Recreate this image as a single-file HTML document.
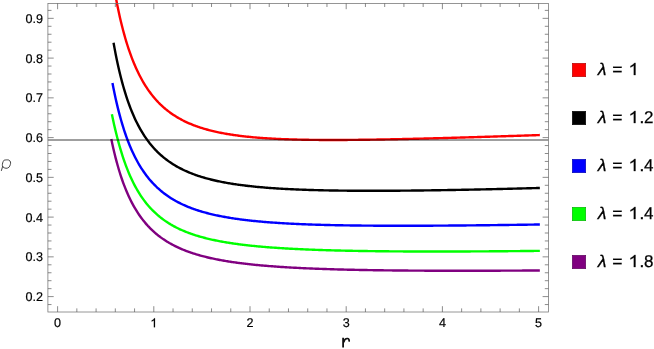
<!DOCTYPE html>
<html><head><meta charset="utf-8"><style>
html,body{margin:0;padding:0;background:#fff;}
body{width:654px;height:349px;position:relative;overflow:hidden;font-family:"Liberation Sans",sans-serif;}
.t{font-family:"Liberation Sans",sans-serif;font-size:12.6px;fill:#000;stroke:#000;stroke-width:0.2px;text-rendering:geometricPrecision;}
.l{font-family:"Liberation Sans",sans-serif;font-size:17px;fill:#000;stroke:#000;stroke-width:0.25px;text-rendering:geometricPrecision;}
.r{font-family:"Liberation Sans",sans-serif;font-size:18px;fill:#111;}
</style></head><body>
<svg width="654" height="349" viewBox="0 0 654 349" style="position:absolute;left:0;top:0">
<defs><clipPath id="cp"><rect x="47.9" y="0" width="500.5" height="312.0"/></clipPath></defs>
<g clip-path="url(#cp)"><path d="M112.43,-22.23 L113.51,-15.62 L114.58,-9.36 L115.65,-3.44 L116.72,2.18 L117.79,7.51 L118.86,12.57 L119.93,17.39 L121.00,21.96 L122.07,26.32 L123.15,30.47 L124.22,34.43 L125.29,38.21 L126.36,41.81 L127.43,45.25 L128.50,48.55 L129.57,51.69 L130.64,54.71 L131.72,57.59 L132.79,60.35 L133.86,63.00 L134.93,65.54 L136.00,67.98 L137.07,70.32 L138.14,72.57 L139.21,74.72 L140.29,76.80 L141.36,78.80 L142.43,80.72 L143.50,82.57 L144.57,84.35 L145.64,86.06 L146.71,87.71 L147.78,89.30 L148.86,90.84 L149.93,92.32 L151.00,93.75 L152.07,95.13 L153.14,96.46 L154.21,97.75 L155.28,98.99 L156.35,100.19 L157.43,101.35 L158.50,102.48 L159.57,103.56 L160.64,104.62 L161.71,105.63 L162.78,106.62 L163.85,107.57 L164.92,108.49 L165.99,109.39 L167.07,110.25 L168.14,111.09 L169.21,111.91 L170.28,112.70 L171.35,113.46 L172.42,114.20 L173.49,114.92 L174.56,115.62 L175.64,116.30 L176.71,116.96 L177.78,117.60 L178.85,118.22 L179.92,118.82 L180.99,119.41 L182.06,119.97 L183.13,120.53 L184.21,121.06 L185.28,121.59 L186.35,122.09 L187.42,122.59 L188.49,123.06 L189.56,123.53 L190.63,123.98 L191.70,124.42 L192.78,124.85 L193.85,125.27 L194.92,125.68 L195.99,126.07 L197.06,126.46 L198.13,126.83 L199.20,127.19 L200.27,127.55 L201.35,127.89 L202.42,128.23 L203.49,128.56 L204.56,128.88 L205.63,129.19 L206.70,129.49 L207.77,129.78 L208.84,130.07 L209.91,130.35 L210.99,130.62 L212.06,130.88 L213.13,131.14 L214.20,131.39 L215.27,131.64 L216.34,131.88 L217.41,132.11 L218.48,132.34 L219.56,132.56 L220.63,132.77 L221.70,132.98 L222.77,133.19 L223.84,133.39 L224.91,133.58 L225.98,133.77 L227.05,133.96 L228.13,134.14 L229.20,134.31 L230.27,134.48 L231.34,134.65 L232.41,134.81 L233.48,134.97 L234.55,135.12 L235.62,135.28 L236.70,135.42 L237.77,135.56 L238.84,135.70 L239.91,135.84 L240.98,135.97 L242.05,136.10 L243.12,136.23 L244.19,136.35 L245.27,136.47 L246.34,136.58 L247.41,136.70 L248.48,136.81 L249.55,136.91 L250.62,137.02 L251.69,137.12 L252.76,137.22 L253.83,137.32 L254.91,137.41 L255.98,137.50 L257.05,137.59 L258.12,137.68 L259.19,137.76 L260.26,137.84 L261.33,137.92 L262.40,138.00 L263.48,138.08 L264.55,138.15 L265.62,138.22 L266.69,138.29 L267.76,138.36 L268.83,138.42 L269.90,138.49 L270.97,138.55 L272.05,138.61 L273.12,138.67 L274.19,138.72 L275.26,138.78 L276.33,138.83 L277.40,138.88 L278.47,138.93 L279.54,138.98 L280.62,139.03 L281.69,139.08 L282.76,139.12 L283.83,139.16 L284.90,139.20 L285.97,139.24 L287.04,139.28 L288.11,139.32 L289.19,139.36 L290.26,139.39 L291.33,139.42 L292.40,139.46 L293.47,139.49 L294.54,139.52 L295.61,139.55 L296.68,139.57 L297.75,139.60 L298.83,139.63 L299.90,139.65 L300.97,139.67 L302.04,139.70 L303.11,139.72 L304.18,139.74 L305.25,139.76 L306.32,139.78 L307.40,139.79 L308.47,139.81 L309.54,139.83 L310.61,139.84 L311.68,139.85 L312.75,139.87 L313.82,139.88 L314.89,139.89 L315.97,139.90 L317.04,139.91 L318.11,139.92 L319.18,139.93 L320.25,139.94 L321.32,139.95 L322.39,139.95 L323.46,139.96 L324.54,139.96 L325.61,139.97 L326.68,139.97 L327.75,139.97 L328.82,139.98 L329.89,139.98 L330.96,139.98 L332.03,139.98 L333.11,139.98 L334.18,139.98 L335.25,139.98 L336.32,139.98 L337.39,139.97 L338.46,139.97 L339.53,139.97 L340.60,139.96 L341.67,139.96 L342.75,139.95 L343.82,139.95 L344.89,139.94 L345.96,139.94 L347.03,139.93 L348.10,139.92 L349.17,139.91 L350.24,139.90 L351.32,139.90 L352.39,139.89 L353.46,139.88 L354.53,139.87 L355.60,139.86 L356.67,139.85 L357.74,139.83 L358.81,139.82 L359.89,139.81 L360.96,139.80 L362.03,139.79 L363.10,139.77 L364.17,139.76 L365.24,139.74 L366.31,139.73 L367.38,139.72 L368.46,139.70 L369.53,139.69 L370.60,139.67 L371.67,139.65 L372.74,139.64 L373.81,139.62 L374.88,139.60 L375.95,139.59 L377.03,139.57 L378.10,139.55 L379.17,139.53 L380.24,139.51 L381.31,139.50 L382.38,139.48 L383.45,139.46 L384.52,139.44 L385.59,139.42 L386.67,139.40 L387.74,139.38 L388.81,139.36 L389.88,139.34 L390.95,139.32 L392.02,139.29 L393.09,139.27 L394.16,139.25 L395.24,139.23 L396.31,139.21 L397.38,139.19 L398.45,139.16 L399.52,139.14 L400.59,139.12 L401.66,139.09 L402.73,139.07 L403.81,139.05 L404.88,139.02 L405.95,139.00 L407.02,138.97 L408.09,138.95 L409.16,138.92 L410.23,138.90 L411.30,138.87 L412.38,138.85 L413.45,138.82 L414.52,138.80 L415.59,138.77 L416.66,138.75 L417.73,138.72 L418.80,138.69 L419.87,138.67 L420.95,138.64 L422.02,138.61 L423.09,138.59 L424.16,138.56 L425.23,138.53 L426.30,138.51 L427.37,138.48 L428.44,138.45 L429.51,138.42 L430.59,138.40 L431.66,138.37 L432.73,138.34 L433.80,138.31 L434.87,138.28 L435.94,138.25 L437.01,138.22 L438.08,138.20 L439.16,138.17 L440.23,138.14 L441.30,138.11 L442.37,138.08 L443.44,138.05 L444.51,138.02 L445.58,137.99 L446.65,137.96 L447.73,137.93 L448.80,137.90 L449.87,137.87 L450.94,137.84 L452.01,137.81 L453.08,137.78 L454.15,137.75 L455.22,137.72 L456.30,137.69 L457.37,137.66 L458.44,137.62 L459.51,137.59 L460.58,137.56 L461.65,137.53 L462.72,137.50 L463.79,137.47 L464.87,137.44 L465.94,137.40 L467.01,137.37 L468.08,137.34 L469.15,137.31 L470.22,137.28 L471.29,137.24 L472.36,137.21 L473.43,137.18 L474.51,137.15 L475.58,137.11 L476.65,137.08 L477.72,137.05 L478.79,137.02 L479.86,136.98 L480.93,136.95 L482.00,136.92 L483.08,136.89 L484.15,136.85 L485.22,136.82 L486.29,136.79 L487.36,136.75 L488.43,136.72 L489.50,136.69 L490.57,136.65 L491.65,136.62 L492.72,136.58 L493.79,136.55 L494.86,136.52 L495.93,136.48 L497.00,136.45 L498.07,136.42 L499.14,136.38 L500.22,136.35 L501.29,136.31 L502.36,136.28 L503.43,136.24 L504.50,136.21 L505.57,136.18 L506.64,136.14 L507.71,136.11 L508.79,136.07 L509.86,136.04 L510.93,136.00 L512.00,135.97 L513.07,135.93 L514.14,135.90 L515.21,135.86 L516.28,135.83 L517.35,135.79 L518.43,135.76 L519.50,135.72 L520.57,135.69 L521.64,135.65 L522.71,135.62 L523.78,135.58 L524.85,135.55 L525.92,135.51 L527.00,135.48 L528.07,135.44 L529.14,135.40 L530.21,135.37 L531.28,135.33 L532.35,135.30 L533.42,135.26 L534.49,135.23 L535.57,135.19 L536.64,135.15 L537.71,135.12 L538.78,135.08 L539.85,135.05" fill="none" stroke="#ff0000" stroke-width="2.4" stroke-linejoin="round"/><path d="M113.55,42.70 L114.62,48.61 L115.68,54.20 L116.75,59.49 L117.82,64.50 L118.89,69.25 L119.96,73.76 L121.03,78.05 L122.09,82.13 L123.16,86.01 L124.23,89.70 L125.30,93.22 L126.37,96.58 L127.44,99.79 L128.51,102.85 L129.57,105.78 L130.64,108.58 L131.71,111.25 L132.78,113.82 L133.85,116.27 L134.92,118.63 L135.98,120.89 L137.05,123.06 L138.12,125.14 L139.19,127.13 L140.26,129.06 L141.33,130.90 L142.40,132.68 L143.46,134.39 L144.53,136.04 L145.60,137.62 L146.67,139.15 L147.74,140.62 L148.81,142.04 L149.87,143.42 L150.94,144.74 L152.01,146.02 L153.08,147.25 L154.15,148.44 L155.22,149.59 L156.28,150.71 L157.35,151.78 L158.42,152.83 L159.49,153.84 L160.56,154.81 L161.63,155.76 L162.70,156.67 L163.76,157.56 L164.83,158.42 L165.90,159.25 L166.97,160.06 L168.04,160.85 L169.11,161.61 L170.17,162.34 L171.24,163.06 L172.31,163.76 L173.38,164.43 L174.45,165.09 L175.52,165.73 L176.58,166.34 L177.65,166.95 L178.72,167.53 L179.79,168.10 L180.86,168.65 L181.93,169.19 L183.00,169.72 L184.06,170.23 L185.13,170.72 L186.20,171.20 L187.27,171.67 L188.34,172.13 L189.41,172.58 L190.47,173.01 L191.54,173.44 L192.61,173.85 L193.68,174.25 L194.75,174.64 L195.82,175.02 L196.88,175.39 L197.95,175.76 L199.02,176.11 L200.09,176.46 L201.16,176.79 L202.23,177.12 L203.30,177.44 L204.36,177.75 L205.43,178.06 L206.50,178.36 L207.57,178.65 L208.64,178.93 L209.71,179.21 L210.77,179.48 L211.84,179.75 L212.91,180.00 L213.98,180.26 L215.05,180.50 L216.12,180.74 L217.19,180.98 L218.25,181.21 L219.32,181.43 L220.39,181.65 L221.46,181.87 L222.53,182.08 L223.60,182.28 L224.66,182.48 L225.73,182.68 L226.80,182.87 L227.87,183.06 L228.94,183.24 L230.01,183.42 L231.07,183.60 L232.14,183.77 L233.21,183.94 L234.28,184.10 L235.35,184.26 L236.42,184.42 L237.49,184.57 L238.55,184.72 L239.62,184.87 L240.69,185.01 L241.76,185.15 L242.83,185.29 L243.90,185.43 L244.96,185.56 L246.03,185.69 L247.10,185.81 L248.17,185.94 L249.24,186.06 L250.31,186.18 L251.37,186.29 L252.44,186.41 L253.51,186.52 L254.58,186.63 L255.65,186.73 L256.72,186.84 L257.79,186.94 L258.85,187.04 L259.92,187.14 L260.99,187.23 L262.06,187.32 L263.13,187.42 L264.20,187.51 L265.26,187.59 L266.33,187.68 L267.40,187.76 L268.47,187.85 L269.54,187.93 L270.61,188.00 L271.67,188.08 L272.74,188.16 L273.81,188.23 L274.88,188.30 L275.95,188.37 L277.02,188.44 L278.09,188.51 L279.15,188.58 L280.22,188.64 L281.29,188.71 L282.36,188.77 L283.43,188.83 L284.50,188.89 L285.56,188.94 L286.63,189.00 L287.70,189.06 L288.77,189.11 L289.84,189.16 L290.91,189.22 L291.98,189.27 L293.04,189.32 L294.11,189.36 L295.18,189.41 L296.25,189.46 L297.32,189.50 L298.39,189.55 L299.45,189.59 L300.52,189.63 L301.59,189.67 L302.66,189.71 L303.73,189.75 L304.80,189.79 L305.86,189.82 L306.93,189.86 L308.00,189.90 L309.07,189.93 L310.14,189.96 L311.21,190.00 L312.28,190.03 L313.34,190.06 L314.41,190.09 L315.48,190.12 L316.55,190.15 L317.62,190.17 L318.69,190.20 L319.75,190.23 L320.82,190.25 L321.89,190.28 L322.96,190.30 L324.03,190.33 L325.10,190.35 L326.16,190.37 L327.23,190.39 L328.30,190.41 L329.37,190.43 L330.44,190.45 L331.51,190.47 L332.58,190.49 L333.64,190.51 L334.71,190.52 L335.78,190.54 L336.85,190.55 L337.92,190.57 L338.99,190.58 L340.05,190.60 L341.12,190.61 L342.19,190.62 L343.26,190.64 L344.33,190.65 L345.40,190.66 L346.46,190.67 L347.53,190.68 L348.60,190.69 L349.67,190.70 L350.74,190.71 L351.81,190.72 L352.88,190.72 L353.94,190.73 L355.01,190.74 L356.08,190.74 L357.15,190.75 L358.22,190.76 L359.29,190.76 L360.35,190.77 L361.42,190.77 L362.49,190.77 L363.56,190.78 L364.63,190.78 L365.70,190.78 L366.77,190.78 L367.83,190.79 L368.90,190.79 L369.97,190.79 L371.04,190.79 L372.11,190.79 L373.18,190.79 L374.24,190.79 L375.31,190.79 L376.38,190.79 L377.45,190.78 L378.52,190.78 L379.59,190.78 L380.65,190.78 L381.72,190.77 L382.79,190.77 L383.86,190.77 L384.93,190.76 L386.00,190.76 L387.07,190.75 L388.13,190.75 L389.20,190.74 L390.27,190.74 L391.34,190.73 L392.41,190.73 L393.48,190.72 L394.54,190.71 L395.61,190.71 L396.68,190.70 L397.75,190.69 L398.82,190.68 L399.89,190.68 L400.95,190.67 L402.02,190.66 L403.09,190.65 L404.16,190.64 L405.23,190.63 L406.30,190.62 L407.37,190.61 L408.43,190.60 L409.50,190.59 L410.57,190.58 L411.64,190.57 L412.71,190.56 L413.78,190.55 L414.84,190.53 L415.91,190.52 L416.98,190.51 L418.05,190.50 L419.12,190.49 L420.19,190.47 L421.25,190.46 L422.32,190.45 L423.39,190.43 L424.46,190.42 L425.53,190.41 L426.60,190.39 L427.67,190.38 L428.73,190.36 L429.80,190.35 L430.87,190.33 L431.94,190.32 L433.01,190.30 L434.08,190.29 L435.14,190.27 L436.21,190.25 L437.28,190.24 L438.35,190.22 L439.42,190.20 L440.49,190.19 L441.56,190.17 L442.62,190.15 L443.69,190.14 L444.76,190.12 L445.83,190.10 L446.90,190.08 L447.97,190.07 L449.03,190.05 L450.10,190.03 L451.17,190.01 L452.24,189.99 L453.31,189.97 L454.38,189.95 L455.44,189.93 L456.51,189.91 L457.58,189.89 L458.65,189.87 L459.72,189.85 L460.79,189.83 L461.86,189.81 L462.92,189.79 L463.99,189.77 L465.06,189.75 L466.13,189.73 L467.20,189.71 L468.27,189.69 L469.33,189.67 L470.40,189.65 L471.47,189.62 L472.54,189.60 L473.61,189.58 L474.68,189.56 L475.74,189.54 L476.81,189.51 L477.88,189.49 L478.95,189.47 L480.02,189.45 L481.09,189.42 L482.16,189.40 L483.22,189.38 L484.29,189.35 L485.36,189.33 L486.43,189.31 L487.50,189.28 L488.57,189.26 L489.63,189.23 L490.70,189.21 L491.77,189.19 L492.84,189.16 L493.91,189.14 L494.98,189.11 L496.05,189.09 L497.11,189.06 L498.18,189.04 L499.25,189.01 L500.32,188.99 L501.39,188.96 L502.46,188.93 L503.52,188.91 L504.59,188.88 L505.66,188.86 L506.73,188.83 L507.80,188.80 L508.87,188.78 L509.93,188.75 L511.00,188.73 L512.07,188.70 L513.14,188.67 L514.21,188.64 L515.28,188.62 L516.35,188.59 L517.41,188.56 L518.48,188.54 L519.55,188.51 L520.62,188.48 L521.69,188.45 L522.76,188.42 L523.82,188.40 L524.89,188.37 L525.96,188.34 L527.03,188.31 L528.10,188.28 L529.17,188.26 L530.23,188.23 L531.30,188.20 L532.37,188.17 L533.44,188.14 L534.51,188.11 L535.58,188.08 L536.65,188.05 L537.71,188.02 L538.78,187.99 L539.85,187.96" fill="none" stroke="#000000" stroke-width="2.4" stroke-linejoin="round"/><path d="M112.46,82.90 L113.53,88.44 L114.61,93.69 L115.68,98.66 L116.75,103.38 L117.82,107.87 L118.89,112.13 L119.96,116.18 L121.03,120.04 L122.10,123.71 L123.17,127.22 L124.25,130.56 L125.32,133.75 L126.39,136.81 L127.46,139.72 L128.53,142.51 L129.60,145.18 L130.67,147.74 L131.74,150.19 L132.82,152.54 L133.89,154.80 L134.96,156.96 L136.03,159.04 L137.10,161.04 L138.17,162.96 L139.24,164.80 L140.31,166.58 L141.38,168.29 L142.46,169.94 L143.53,171.52 L144.60,173.05 L145.67,174.53 L146.74,175.95 L147.81,177.32 L148.88,178.65 L149.95,179.93 L151.02,181.16 L152.10,182.36 L153.17,183.51 L154.24,184.63 L155.31,185.71 L156.38,186.75 L157.45,187.76 L158.52,188.74 L159.59,189.69 L160.67,190.61 L161.74,191.50 L162.81,192.36 L163.88,193.20 L164.95,194.01 L166.02,194.80 L167.09,195.56 L168.16,196.30 L169.23,197.02 L170.31,197.72 L171.38,198.40 L172.45,199.06 L173.52,199.70 L174.59,200.32 L175.66,200.93 L176.73,201.51 L177.80,202.09 L178.87,202.64 L179.95,203.18 L181.02,203.71 L182.09,204.22 L183.16,204.72 L184.23,205.21 L185.30,205.68 L186.37,206.14 L187.44,206.59 L188.51,207.03 L189.59,207.45 L190.66,207.87 L191.73,208.27 L192.80,208.67 L193.87,209.05 L194.94,209.43 L196.01,209.79 L197.08,210.15 L198.16,210.50 L199.23,210.84 L200.30,211.17 L201.37,211.49 L202.44,211.81 L203.51,212.12 L204.58,212.42 L205.65,212.71 L206.72,213.00 L207.80,213.28 L208.87,213.55 L209.94,213.82 L211.01,214.08 L212.08,214.34 L213.15,214.59 L214.22,214.83 L215.29,215.07 L216.36,215.30 L217.44,215.53 L218.51,215.75 L219.58,215.97 L220.65,216.18 L221.72,216.39 L222.79,216.59 L223.86,216.79 L224.93,216.99 L226.00,217.18 L227.08,217.37 L228.15,217.55 L229.22,217.73 L230.29,217.90 L231.36,218.07 L232.43,218.24 L233.50,218.40 L234.57,218.57 L235.65,218.72 L236.72,218.88 L237.79,219.03 L238.86,219.17 L239.93,219.32 L241.00,219.46 L242.07,219.60 L243.14,219.73 L244.21,219.87 L245.29,220.00 L246.36,220.12 L247.43,220.25 L248.50,220.37 L249.57,220.49 L250.64,220.61 L251.71,220.72 L252.78,220.84 L253.85,220.95 L254.93,221.05 L256.00,221.16 L257.07,221.26 L258.14,221.37 L259.21,221.47 L260.28,221.56 L261.35,221.66 L262.42,221.75 L263.49,221.85 L264.57,221.94 L265.64,222.02 L266.71,222.11 L267.78,222.20 L268.85,222.28 L269.92,222.36 L270.99,222.44 L272.06,222.52 L273.14,222.60 L274.21,222.67 L275.28,222.74 L276.35,222.82 L277.42,222.89 L278.49,222.96 L279.56,223.03 L280.63,223.09 L281.70,223.16 L282.78,223.22 L283.85,223.28 L284.92,223.35 L285.99,223.41 L287.06,223.47 L288.13,223.52 L289.20,223.58 L290.27,223.64 L291.34,223.69 L292.42,223.74 L293.49,223.80 L294.56,223.85 L295.63,223.90 L296.70,223.95 L297.77,224.00 L298.84,224.04 L299.91,224.09 L300.99,224.14 L302.06,224.18 L303.13,224.22 L304.20,224.27 L305.27,224.31 L306.34,224.35 L307.41,224.39 L308.48,224.43 L309.55,224.47 L310.63,224.50 L311.70,224.54 L312.77,224.58 L313.84,224.61 L314.91,224.65 L315.98,224.68 L317.05,224.71 L318.12,224.75 L319.19,224.78 L320.27,224.81 L321.34,224.84 L322.41,224.87 L323.48,224.90 L324.55,224.93 L325.62,224.95 L326.69,224.98 L327.76,225.01 L328.83,225.03 L329.91,225.06 L330.98,225.08 L332.05,225.11 L333.12,225.13 L334.19,225.16 L335.26,225.18 L336.33,225.20 L337.40,225.22 L338.48,225.24 L339.55,225.26 L340.62,225.28 L341.69,225.30 L342.76,225.32 L343.83,225.34 L344.90,225.36 L345.97,225.37 L347.04,225.39 L348.12,225.41 L349.19,225.42 L350.26,225.44 L351.33,225.45 L352.40,225.47 L353.47,225.48 L354.54,225.50 L355.61,225.51 L356.68,225.52 L357.76,225.54 L358.83,225.55 L359.90,225.56 L360.97,225.57 L362.04,225.58 L363.11,225.59 L364.18,225.60 L365.25,225.61 L366.32,225.62 L367.40,225.63 L368.47,225.64 L369.54,225.65 L370.61,225.66 L371.68,225.67 L372.75,225.67 L373.82,225.68 L374.89,225.69 L375.97,225.69 L377.04,225.70 L378.11,225.71 L379.18,225.71 L380.25,225.72 L381.32,225.72 L382.39,225.73 L383.46,225.73 L384.53,225.74 L385.61,225.74 L386.68,225.74 L387.75,225.75 L388.82,225.75 L389.89,225.75 L390.96,225.75 L392.03,225.76 L393.10,225.76 L394.17,225.76 L395.25,225.76 L396.32,225.76 L397.39,225.76 L398.46,225.77 L399.53,225.77 L400.60,225.77 L401.67,225.77 L402.74,225.77 L403.82,225.77 L404.89,225.77 L405.96,225.76 L407.03,225.76 L408.10,225.76 L409.17,225.76 L410.24,225.76 L411.31,225.76 L412.38,225.75 L413.46,225.75 L414.53,225.75 L415.60,225.75 L416.67,225.74 L417.74,225.74 L418.81,225.74 L419.88,225.73 L420.95,225.73 L422.02,225.73 L423.10,225.72 L424.17,225.72 L425.24,225.71 L426.31,225.71 L427.38,225.71 L428.45,225.70 L429.52,225.69 L430.59,225.69 L431.66,225.68 L432.74,225.68 L433.81,225.67 L434.88,225.67 L435.95,225.66 L437.02,225.65 L438.09,225.65 L439.16,225.64 L440.23,225.63 L441.31,225.63 L442.38,225.62 L443.45,225.61 L444.52,225.61 L445.59,225.60 L446.66,225.59 L447.73,225.58 L448.80,225.57 L449.87,225.57 L450.95,225.56 L452.02,225.55 L453.09,225.54 L454.16,225.53 L455.23,225.52 L456.30,225.52 L457.37,225.51 L458.44,225.50 L459.51,225.49 L460.59,225.48 L461.66,225.47 L462.73,225.46 L463.80,225.45 L464.87,225.44 L465.94,225.43 L467.01,225.42 L468.08,225.41 L469.15,225.40 L470.23,225.39 L471.30,225.38 L472.37,225.37 L473.44,225.36 L474.51,225.34 L475.58,225.33 L476.65,225.32 L477.72,225.31 L478.80,225.30 L479.87,225.29 L480.94,225.28 L482.01,225.26 L483.08,225.25 L484.15,225.24 L485.22,225.23 L486.29,225.22 L487.36,225.20 L488.44,225.19 L489.51,225.18 L490.58,225.16 L491.65,225.15 L492.72,225.14 L493.79,225.13 L494.86,225.11 L495.93,225.10 L497.00,225.09 L498.08,225.07 L499.15,225.06 L500.22,225.05 L501.29,225.03 L502.36,225.02 L503.43,225.01 L504.50,224.99 L505.57,224.98 L506.65,224.96 L507.72,224.95 L508.79,224.93 L509.86,224.92 L510.93,224.91 L512.00,224.89 L513.07,224.88 L514.14,224.86 L515.21,224.85 L516.29,224.83 L517.36,224.82 L518.43,224.80 L519.50,224.79 L520.57,224.77 L521.64,224.76 L522.71,224.74 L523.78,224.73 L524.85,224.71 L525.93,224.69 L527.00,224.68 L528.07,224.66 L529.14,224.65 L530.21,224.63 L531.28,224.61 L532.35,224.60 L533.42,224.58 L534.49,224.57 L535.57,224.55 L536.64,224.53 L537.71,224.52 L538.78,224.50 L539.85,224.48" fill="none" stroke="#0000ff" stroke-width="2.4" stroke-linejoin="round"/><path d="M111.87,114.20 L112.94,119.32 L114.01,124.21 L115.09,128.88 L116.16,133.33 L117.23,137.58 L118.31,141.63 L119.38,145.50 L120.45,149.19 L121.52,152.72 L122.60,156.09 L123.67,159.32 L124.74,162.40 L125.81,165.34 L126.89,168.16 L127.96,170.86 L129.03,173.44 L130.10,175.92 L131.18,178.29 L132.25,180.57 L133.32,182.75 L134.39,184.84 L135.47,186.85 L136.54,188.78 L137.61,190.63 L138.69,192.41 L139.76,194.13 L140.83,195.78 L141.90,197.36 L142.98,198.89 L144.05,200.36 L145.12,201.78 L146.19,203.14 L147.27,204.46 L148.34,205.73 L149.41,206.95 L150.48,208.14 L151.56,209.28 L152.63,210.38 L153.70,211.45 L154.77,212.48 L155.85,213.48 L156.92,214.44 L157.99,215.37 L159.07,216.27 L160.14,217.15 L161.21,217.99 L162.28,218.81 L163.36,219.60 L164.43,220.37 L165.50,221.12 L166.57,221.84 L167.65,222.54 L168.72,223.22 L169.79,223.88 L170.86,224.53 L171.94,225.15 L173.01,225.75 L174.08,226.34 L175.16,226.91 L176.23,227.47 L177.30,228.01 L178.37,228.53 L179.45,229.04 L180.52,229.54 L181.59,230.02 L182.66,230.49 L183.74,230.95 L184.81,231.39 L185.88,231.83 L186.95,232.25 L188.03,232.66 L189.10,233.06 L190.17,233.45 L191.24,233.83 L192.32,234.21 L193.39,234.57 L194.46,234.92 L195.54,235.27 L196.61,235.60 L197.68,235.93 L198.75,236.25 L199.83,236.56 L200.90,236.87 L201.97,237.17 L203.04,237.46 L204.12,237.74 L205.19,238.02 L206.26,238.29 L207.33,238.56 L208.41,238.82 L209.48,239.07 L210.55,239.32 L211.62,239.56 L212.70,239.80 L213.77,240.03 L214.84,240.25 L215.92,240.48 L216.99,240.69 L218.06,240.90 L219.13,241.11 L220.21,241.32 L221.28,241.51 L222.35,241.71 L223.42,241.90 L224.50,242.09 L225.57,242.27 L226.64,242.45 L227.71,242.62 L228.79,242.79 L229.86,242.96 L230.93,243.13 L232.00,243.29 L233.08,243.45 L234.15,243.60 L235.22,243.75 L236.30,243.90 L237.37,244.05 L238.44,244.19 L239.51,244.33 L240.59,244.47 L241.66,244.60 L242.73,244.74 L243.80,244.87 L244.88,244.99 L245.95,245.12 L247.02,245.24 L248.09,245.36 L249.17,245.48 L250.24,245.60 L251.31,245.71 L252.38,245.82 L253.46,245.93 L254.53,246.04 L255.60,246.14 L256.68,246.25 L257.75,246.35 L258.82,246.45 L259.89,246.54 L260.97,246.64 L262.04,246.73 L263.11,246.83 L264.18,246.92 L265.26,247.01 L266.33,247.09 L267.40,247.18 L268.47,247.27 L269.55,247.35 L270.62,247.43 L271.69,247.51 L272.76,247.59 L273.84,247.67 L274.91,247.74 L275.98,247.82 L277.06,247.89 L278.13,247.96 L279.20,248.03 L280.27,248.10 L281.35,248.17 L282.42,248.24 L283.49,248.30 L284.56,248.37 L285.64,248.43 L286.71,248.49 L287.78,248.56 L288.85,248.62 L289.93,248.68 L291.00,248.73 L292.07,248.79 L293.14,248.85 L294.22,248.90 L295.29,248.96 L296.36,249.01 L297.44,249.06 L298.51,249.12 L299.58,249.17 L300.65,249.22 L301.73,249.27 L302.80,249.31 L303.87,249.36 L304.94,249.41 L306.02,249.45 L307.09,249.50 L308.16,249.54 L309.23,249.59 L310.31,249.63 L311.38,249.67 L312.45,249.71 L313.52,249.75 L314.60,249.79 L315.67,249.83 L316.74,249.87 L317.82,249.91 L318.89,249.95 L319.96,249.98 L321.03,250.02 L322.11,250.05 L323.18,250.09 L324.25,250.12 L325.32,250.16 L326.40,250.19 L327.47,250.22 L328.54,250.25 L329.61,250.28 L330.69,250.31 L331.76,250.34 L332.83,250.37 L333.90,250.40 L334.98,250.43 L336.05,250.46 L337.12,250.49 L338.20,250.51 L339.27,250.54 L340.34,250.56 L341.41,250.59 L342.49,250.62 L343.56,250.64 L344.63,250.66 L345.70,250.69 L346.78,250.71 L347.85,250.73 L348.92,250.76 L349.99,250.78 L351.07,250.80 L352.14,250.82 L353.21,250.84 L354.28,250.86 L355.36,250.88 L356.43,250.90 L357.50,250.92 L358.58,250.94 L359.65,250.96 L360.72,250.97 L361.79,250.99 L362.87,251.01 L363.94,251.02 L365.01,251.04 L366.08,251.06 L367.16,251.07 L368.23,251.09 L369.30,251.10 L370.37,251.12 L371.45,251.13 L372.52,251.15 L373.59,251.16 L374.66,251.17 L375.74,251.19 L376.81,251.20 L377.88,251.21 L378.96,251.22 L380.03,251.24 L381.10,251.25 L382.17,251.26 L383.25,251.27 L384.32,251.28 L385.39,251.29 L386.46,251.30 L387.54,251.31 L388.61,251.32 L389.68,251.33 L390.75,251.34 L391.83,251.35 L392.90,251.36 L393.97,251.36 L395.04,251.37 L396.12,251.38 L397.19,251.39 L398.26,251.40 L399.34,251.40 L400.41,251.41 L401.48,251.42 L402.55,251.42 L403.63,251.43 L404.70,251.43 L405.77,251.44 L406.84,251.44 L407.92,251.45 L408.99,251.45 L410.06,251.46 L411.13,251.46 L412.21,251.47 L413.28,251.47 L414.35,251.48 L415.43,251.48 L416.50,251.48 L417.57,251.49 L418.64,251.49 L419.72,251.49 L420.79,251.50 L421.86,251.50 L422.93,251.50 L424.01,251.50 L425.08,251.50 L426.15,251.51 L427.22,251.51 L428.30,251.51 L429.37,251.51 L430.44,251.51 L431.51,251.51 L432.59,251.51 L433.66,251.51 L434.73,251.51 L435.81,251.51 L436.88,251.51 L437.95,251.51 L439.02,251.51 L440.10,251.51 L441.17,251.51 L442.24,251.51 L443.31,251.51 L444.39,251.51 L445.46,251.50 L446.53,251.50 L447.60,251.50 L448.68,251.50 L449.75,251.50 L450.82,251.50 L451.89,251.49 L452.97,251.49 L454.04,251.49 L455.11,251.48 L456.19,251.48 L457.26,251.48 L458.33,251.48 L459.40,251.47 L460.48,251.47 L461.55,251.46 L462.62,251.46 L463.69,251.46 L464.77,251.45 L465.84,251.45 L466.91,251.44 L467.98,251.44 L469.06,251.43 L470.13,251.43 L471.20,251.42 L472.27,251.42 L473.35,251.41 L474.42,251.41 L475.49,251.40 L476.57,251.40 L477.64,251.39 L478.71,251.39 L479.78,251.38 L480.86,251.37 L481.93,251.37 L483.00,251.36 L484.07,251.35 L485.15,251.35 L486.22,251.34 L487.29,251.33 L488.36,251.33 L489.44,251.32 L490.51,251.31 L491.58,251.31 L492.65,251.30 L493.73,251.29 L494.80,251.28 L495.87,251.27 L496.95,251.27 L498.02,251.26 L499.09,251.25 L500.16,251.24 L501.24,251.23 L502.31,251.23 L503.38,251.22 L504.45,251.21 L505.53,251.20 L506.60,251.19 L507.67,251.18 L508.74,251.17 L509.82,251.16 L510.89,251.15 L511.96,251.14 L513.03,251.13 L514.11,251.13 L515.18,251.12 L516.25,251.11 L517.33,251.10 L518.40,251.09 L519.47,251.08 L520.54,251.07 L521.62,251.05 L522.69,251.04 L523.76,251.03 L524.83,251.02 L525.91,251.01 L526.98,251.00 L528.05,250.99 L529.12,250.98 L530.20,250.97 L531.27,250.96 L532.34,250.95 L533.41,250.93 L534.49,250.92 L535.56,250.91 L536.63,250.90 L537.71,250.89 L538.78,250.88 L539.85,250.86" fill="none" stroke="#00ff00" stroke-width="2.4" stroke-linejoin="round"/><path d="M111.30,139.10 L112.38,144.18 L113.45,148.98 L114.53,153.53 L115.60,157.84 L116.67,161.92 L117.75,165.80 L118.82,169.49 L119.90,172.99 L120.97,176.32 L122.04,179.50 L123.12,182.53 L124.19,185.41 L125.27,188.17 L126.34,190.80 L127.41,193.32 L128.49,195.73 L129.56,198.03 L130.64,200.24 L131.71,202.35 L132.79,204.38 L133.86,206.33 L134.93,208.19 L136.01,209.99 L137.08,211.71 L138.16,213.37 L139.23,214.97 L140.30,216.50 L141.38,217.98 L142.45,219.40 L143.53,220.78 L144.60,222.10 L145.67,223.37 L146.75,224.61 L147.82,225.80 L148.90,226.94 L149.97,228.05 L151.04,229.12 L152.12,230.16 L153.19,231.16 L154.27,232.13 L155.34,233.07 L156.41,233.98 L157.49,234.86 L158.56,235.72 L159.64,236.54 L160.71,237.34 L161.78,238.12 L162.86,238.88 L163.93,239.61 L165.01,240.32 L166.08,241.01 L167.15,241.67 L168.23,242.32 L169.30,242.96 L170.38,243.57 L171.45,244.17 L172.53,244.75 L173.60,245.31 L174.67,245.86 L175.75,246.39 L176.82,246.91 L177.90,247.42 L178.97,247.91 L180.04,248.39 L181.12,248.86 L182.19,249.31 L183.27,249.76 L184.34,250.19 L185.41,250.61 L186.49,251.02 L187.56,251.42 L188.64,251.81 L189.71,252.20 L190.78,252.57 L191.86,252.93 L192.93,253.29 L194.01,253.63 L195.08,253.97 L196.15,254.30 L197.23,254.62 L198.30,254.94 L199.38,255.24 L200.45,255.55 L201.52,255.84 L202.60,256.13 L203.67,256.41 L204.75,256.68 L205.82,256.95 L206.89,257.21 L207.97,257.47 L209.04,257.72 L210.12,257.97 L211.19,258.21 L212.27,258.44 L213.34,258.67 L214.41,258.90 L215.49,259.12 L216.56,259.33 L217.64,259.55 L218.71,259.75 L219.78,259.96 L220.86,260.15 L221.93,260.35 L223.01,260.54 L224.08,260.73 L225.15,260.91 L226.23,261.09 L227.30,261.27 L228.38,261.44 L229.45,261.61 L230.52,261.77 L231.60,261.94 L232.67,262.10 L233.75,262.25 L234.82,262.41 L235.89,262.56 L236.97,262.70 L238.04,262.85 L239.12,262.99 L240.19,263.13 L241.26,263.27 L242.34,263.40 L243.41,263.53 L244.49,263.66 L245.56,263.79 L246.63,263.91 L247.71,264.04 L248.78,264.16 L249.86,264.28 L250.93,264.39 L252.00,264.50 L253.08,264.62 L254.15,264.73 L255.23,264.83 L256.30,264.94 L257.38,265.04 L258.45,265.15 L259.52,265.25 L260.60,265.35 L261.67,265.44 L262.75,265.54 L263.82,265.63 L264.89,265.72 L265.97,265.81 L267.04,265.90 L268.12,265.99 L269.19,266.08 L270.26,266.16 L271.34,266.24 L272.41,266.32 L273.49,266.40 L274.56,266.48 L275.63,266.56 L276.71,266.64 L277.78,266.71 L278.86,266.79 L279.93,266.86 L281.00,266.93 L282.08,267.00 L283.15,267.07 L284.23,267.14 L285.30,267.20 L286.37,267.27 L287.45,267.33 L288.52,267.40 L289.60,267.46 L290.67,267.52 L291.74,267.58 L292.82,267.64 L293.89,267.70 L294.97,267.75 L296.04,267.81 L297.12,267.87 L298.19,267.92 L299.26,267.98 L300.34,268.03 L301.41,268.08 L302.49,268.13 L303.56,268.18 L304.63,268.23 L305.71,268.28 L306.78,268.33 L307.86,268.38 L308.93,268.42 L310.00,268.47 L311.08,268.51 L312.15,268.56 L313.23,268.60 L314.30,268.64 L315.37,268.68 L316.45,268.73 L317.52,268.77 L318.60,268.81 L319.67,268.85 L320.74,268.89 L321.82,268.92 L322.89,268.96 L323.97,269.00 L325.04,269.03 L326.11,269.07 L327.19,269.11 L328.26,269.14 L329.34,269.17 L330.41,269.21 L331.48,269.24 L332.56,269.27 L333.63,269.31 L334.71,269.34 L335.78,269.37 L336.85,269.40 L337.93,269.43 L339.00,269.46 L340.08,269.49 L341.15,269.52 L342.23,269.54 L343.30,269.57 L344.37,269.60 L345.45,269.62 L346.52,269.65 L347.60,269.68 L348.67,269.70 L349.74,269.73 L350.82,269.75 L351.89,269.78 L352.97,269.80 L354.04,269.82 L355.11,269.84 L356.19,269.87 L357.26,269.89 L358.34,269.91 L359.41,269.93 L360.48,269.95 L361.56,269.97 L362.63,269.99 L363.71,270.01 L364.78,270.03 L365.85,270.05 L366.93,270.07 L368.00,270.09 L369.08,270.11 L370.15,270.13 L371.22,270.14 L372.30,270.16 L373.37,270.18 L374.45,270.19 L375.52,270.21 L376.59,270.23 L377.67,270.24 L378.74,270.26 L379.82,270.27 L380.89,270.29 L381.97,270.30 L383.04,270.32 L384.11,270.33 L385.19,270.34 L386.26,270.36 L387.34,270.37 L388.41,270.38 L389.48,270.39 L390.56,270.41 L391.63,270.42 L392.71,270.43 L393.78,270.44 L394.85,270.45 L395.93,270.46 L397.00,270.47 L398.08,270.49 L399.15,270.50 L400.22,270.51 L401.30,270.52 L402.37,270.52 L403.45,270.53 L404.52,270.54 L405.59,270.55 L406.67,270.56 L407.74,270.57 L408.82,270.58 L409.89,270.59 L410.96,270.59 L412.04,270.60 L413.11,270.61 L414.19,270.62 L415.26,270.62 L416.33,270.63 L417.41,270.64 L418.48,270.64 L419.56,270.65 L420.63,270.65 L421.70,270.66 L422.78,270.67 L423.85,270.67 L424.93,270.68 L426.00,270.68 L427.08,270.69 L428.15,270.69 L429.22,270.70 L430.30,270.70 L431.37,270.71 L432.45,270.71 L433.52,270.71 L434.59,270.72 L435.67,270.72 L436.74,270.72 L437.82,270.73 L438.89,270.73 L439.96,270.73 L441.04,270.74 L442.11,270.74 L443.19,270.74 L444.26,270.74 L445.33,270.74 L446.41,270.75 L447.48,270.75 L448.56,270.75 L449.63,270.75 L450.70,270.75 L451.78,270.75 L452.85,270.76 L453.93,270.76 L455.00,270.76 L456.07,270.76 L457.15,270.76 L458.22,270.76 L459.30,270.76 L460.37,270.76 L461.44,270.76 L462.52,270.76 L463.59,270.76 L464.67,270.76 L465.74,270.76 L466.82,270.76 L467.89,270.76 L468.96,270.76 L470.04,270.75 L471.11,270.75 L472.19,270.75 L473.26,270.75 L474.33,270.75 L475.41,270.75 L476.48,270.75 L477.56,270.74 L478.63,270.74 L479.70,270.74 L480.78,270.74 L481.85,270.74 L482.93,270.73 L484.00,270.73 L485.07,270.73 L486.15,270.72 L487.22,270.72 L488.30,270.72 L489.37,270.72 L490.44,270.71 L491.52,270.71 L492.59,270.71 L493.67,270.70 L494.74,270.70 L495.81,270.69 L496.89,270.69 L497.96,270.69 L499.04,270.68 L500.11,270.68 L501.18,270.67 L502.26,270.67 L503.33,270.67 L504.41,270.66 L505.48,270.66 L506.56,270.65 L507.63,270.65 L508.70,270.64 L509.78,270.64 L510.85,270.63 L511.93,270.63 L513.00,270.62 L514.07,270.62 L515.15,270.61 L516.22,270.60 L517.30,270.60 L518.37,270.59 L519.44,270.59 L520.52,270.58 L521.59,270.58 L522.67,270.57 L523.74,270.56 L524.81,270.56 L525.89,270.55 L526.96,270.54 L528.04,270.54 L529.11,270.53 L530.18,270.52 L531.26,270.52 L532.33,270.51 L533.41,270.50 L534.48,270.50 L535.55,270.49 L536.63,270.48 L537.70,270.47 L538.78,270.47 L539.85,270.46" fill="none" stroke="#800080" stroke-width="2.4" stroke-linejoin="round"/></g>
<line x1="47.9" y1="140.0" x2="548.4" y2="140.0" stroke="#000" stroke-opacity="0.5" stroke-width="1.5"/>
<rect x="47.9" y="3.4" width="500.5" height="308.6" fill="none" stroke="#737373" stroke-width="0.75"/>
<path d="M57.60,312.0 v-5.8 M57.60,3.4 v5.8 M76.84,312.0 v-3.6 M76.84,3.4 v3.6 M96.08,312.0 v-3.6 M96.08,3.4 v3.6 M115.32,312.0 v-3.6 M115.32,3.4 v3.6 M134.56,312.0 v-3.6 M134.56,3.4 v3.6 M153.80,312.0 v-5.8 M153.80,3.4 v5.8 M173.04,312.0 v-3.6 M173.04,3.4 v3.6 M192.28,312.0 v-3.6 M192.28,3.4 v3.6 M211.52,312.0 v-3.6 M211.52,3.4 v3.6 M230.76,312.0 v-3.6 M230.76,3.4 v3.6 M250.00,312.0 v-5.8 M250.00,3.4 v5.8 M269.24,312.0 v-3.6 M269.24,3.4 v3.6 M288.48,312.0 v-3.6 M288.48,3.4 v3.6 M307.72,312.0 v-3.6 M307.72,3.4 v3.6 M326.96,312.0 v-3.6 M326.96,3.4 v3.6 M346.20,312.0 v-5.8 M346.20,3.4 v5.8 M365.44,312.0 v-3.6 M365.44,3.4 v3.6 M384.68,312.0 v-3.6 M384.68,3.4 v3.6 M403.92,312.0 v-3.6 M403.92,3.4 v3.6 M423.16,312.0 v-3.6 M423.16,3.4 v3.6 M442.40,312.0 v-5.8 M442.40,3.4 v5.8 M461.64,312.0 v-3.6 M461.64,3.4 v3.6 M480.88,312.0 v-3.6 M480.88,3.4 v3.6 M500.12,312.0 v-3.6 M500.12,3.4 v3.6 M519.36,312.0 v-3.6 M519.36,3.4 v3.6 M538.60,312.0 v-5.8 M538.60,3.4 v5.8 M47.9,304.55 h3.6 M548.4,304.55 h-3.6 M47.9,296.60 h5.8 M548.4,296.60 h-5.8 M47.9,288.65 h3.6 M548.4,288.65 h-3.6 M47.9,280.70 h3.6 M548.4,280.70 h-3.6 M47.9,272.75 h3.6 M548.4,272.75 h-3.6 M47.9,264.80 h3.6 M548.4,264.80 h-3.6 M47.9,256.85 h5.8 M548.4,256.85 h-5.8 M47.9,248.90 h3.6 M548.4,248.90 h-3.6 M47.9,240.95 h3.6 M548.4,240.95 h-3.6 M47.9,233.00 h3.6 M548.4,233.00 h-3.6 M47.9,225.05 h3.6 M548.4,225.05 h-3.6 M47.9,217.10 h5.8 M548.4,217.10 h-5.8 M47.9,209.15 h3.6 M548.4,209.15 h-3.6 M47.9,201.20 h3.6 M548.4,201.20 h-3.6 M47.9,193.25 h3.6 M548.4,193.25 h-3.6 M47.9,185.30 h3.6 M548.4,185.30 h-3.6 M47.9,177.35 h5.8 M548.4,177.35 h-5.8 M47.9,169.40 h3.6 M548.4,169.40 h-3.6 M47.9,161.45 h3.6 M548.4,161.45 h-3.6 M47.9,153.50 h3.6 M548.4,153.50 h-3.6 M47.9,145.55 h3.6 M548.4,145.55 h-3.6 M47.9,137.60 h5.8 M548.4,137.60 h-5.8 M47.9,129.65 h3.6 M548.4,129.65 h-3.6 M47.9,121.70 h3.6 M548.4,121.70 h-3.6 M47.9,113.75 h3.6 M548.4,113.75 h-3.6 M47.9,105.80 h3.6 M548.4,105.80 h-3.6 M47.9,97.85 h5.8 M548.4,97.85 h-5.8 M47.9,89.90 h3.6 M548.4,89.90 h-3.6 M47.9,81.95 h3.6 M548.4,81.95 h-3.6 M47.9,74.00 h3.6 M548.4,74.00 h-3.6 M47.9,66.05 h3.6 M548.4,66.05 h-3.6 M47.9,58.10 h5.8 M548.4,58.10 h-5.8 M47.9,50.15 h3.6 M548.4,50.15 h-3.6 M47.9,42.20 h3.6 M548.4,42.20 h-3.6 M47.9,34.25 h3.6 M548.4,34.25 h-3.6 M47.9,26.30 h3.6 M548.4,26.30 h-3.6 M47.9,18.35 h5.8 M548.4,18.35 h-5.8 M47.9,10.40 h3.6 M548.4,10.40 h-3.6" stroke="#5a5a5a" stroke-width="0.7" fill="none"/>
<g style="filter:grayscale(1)">
<text x="57.6" y="327.3" text-anchor="middle" class="t">0</text>
<path transform="translate(150.30,327.30) scale(0.006152,-0.006152)" d="M763 0H583V1147Q518 1085 412.5 1023Q307 961 223 930V1104Q374 1175 487 1276Q600 1377 647 1472H763Z" fill="#000" stroke="#000" stroke-width="32.5"/>
<text x="250.0" y="327.3" text-anchor="middle" class="t">2</text>
<text x="346.2" y="327.3" text-anchor="middle" class="t">3</text>
<text x="442.4" y="327.3" text-anchor="middle" class="t">4</text>
<text x="538.6" y="327.3" text-anchor="middle" class="t">5</text>
<text x="43" y="301.1" text-anchor="end" class="t">0.2</text>
<text x="43" y="261.4" text-anchor="end" class="t">0.3</text>
<text x="43" y="221.6" text-anchor="end" class="t">0.4</text>
<text x="43" y="181.9" text-anchor="end" class="t">0.5</text>
<text x="43" y="142.1" text-anchor="end" class="t">0.6</text>
<text x="43" y="102.4" text-anchor="end" class="t">0.7</text>
<text x="43" y="62.6" text-anchor="end" class="t">0.8</text>
<text x="43" y="22.9" text-anchor="end" class="t">0.9</text>
<g fill="none" stroke="#222" stroke-width="0.85"><path d="M4.30,160.20 C5.21,159.92 7.57,159.70 8.60,160.00 C9.63,160.30 10.22,161.23 10.50,162.00 C10.78,162.77 10.57,163.72 10.30,164.60 C10.03,165.48 9.62,166.68 8.90,167.30 C8.18,167.92 7.00,168.37 6.00,168.30 C5.00,168.23 3.50,167.57 2.90,166.90 C2.30,166.23 2.36,165.17 2.40,164.30 C2.44,163.43 2.83,162.38 3.15,161.70 C3.47,161.02 3.39,160.48 4.30,160.20Z"/><path d="M2.7,166.2 L1.3,170.9"/></g>
<g fill="none" stroke="#111" stroke-linecap="butt"><path d="M343.1,337.7 V347.6" stroke-width="1.8"/><path d="M343.9,341.8 C344.3,339.8 346.0,338.4 347.5,338.5 C348.8,338.7 349.2,339.8 349.2,341.0" stroke-width="1.7" stroke-linecap="round"/></g>
<text transform="translate(597.7,75.1) scale(1.05,1)" class="l" font-style="italic">λ</text>
<text transform="translate(612.3,75.1) scale(1.03,1)" class="l">=</text>
<path transform="translate(628.40,75.10) scale(0.009297,-0.008301)" d="M763 0H583V1147Q518 1085 412.5 1023Q307 961 223 930V1104Q374 1175 487 1276Q600 1377 647 1472H763Z" fill="#000" stroke="#000" stroke-width="30.1"/>
<text transform="translate(597.7,123.1) scale(1.05,1)" class="l" font-style="italic">λ</text>
<text transform="translate(612.3,123.1) scale(1.03,1)" class="l">=</text>
<path transform="translate(628.40,123.10) scale(0.009297,-0.008301)" d="M763 0H583V1147Q518 1085 412.5 1023Q307 961 223 930V1104Q374 1175 487 1276Q600 1377 647 1472H763Z" fill="#000" stroke="#000" stroke-width="30.1"/>
<text transform="translate(639.3,123.1) scale(1.12,1)" class="l">.</text>
<text transform="translate(644.0,123.1) scale(1.0,1)" class="l">2</text>
<text transform="translate(597.7,171.1) scale(1.05,1)" class="l" font-style="italic">λ</text>
<text transform="translate(612.3,171.1) scale(1.03,1)" class="l">=</text>
<path transform="translate(628.40,171.10) scale(0.009297,-0.008301)" d="M763 0H583V1147Q518 1085 412.5 1023Q307 961 223 930V1104Q374 1175 487 1276Q600 1377 647 1472H763Z" fill="#000" stroke="#000" stroke-width="30.1"/>
<text transform="translate(639.3,171.1) scale(1.12,1)" class="l">.</text>
<text transform="translate(644.0,171.1) scale(1.0,1)" class="l">4</text>
<text transform="translate(597.7,219.1) scale(1.05,1)" class="l" font-style="italic">λ</text>
<text transform="translate(612.3,219.1) scale(1.03,1)" class="l">=</text>
<path transform="translate(628.40,219.10) scale(0.009297,-0.008301)" d="M763 0H583V1147Q518 1085 412.5 1023Q307 961 223 930V1104Q374 1175 487 1276Q600 1377 647 1472H763Z" fill="#000" stroke="#000" stroke-width="30.1"/>
<text transform="translate(639.3,219.1) scale(1.12,1)" class="l">.</text>
<text transform="translate(644.0,219.1) scale(1.0,1)" class="l">4</text>
<text transform="translate(597.7,267.1) scale(1.05,1)" class="l" font-style="italic">λ</text>
<text transform="translate(612.3,267.1) scale(1.03,1)" class="l">=</text>
<path transform="translate(628.40,267.10) scale(0.009297,-0.008301)" d="M763 0H583V1147Q518 1085 412.5 1023Q307 961 223 930V1104Q374 1175 487 1276Q600 1377 647 1472H763Z" fill="#000" stroke="#000" stroke-width="30.1"/>
<text transform="translate(639.3,267.1) scale(1.12,1)" class="l">.</text>
<text transform="translate(644.0,267.1) scale(1.0,1)" class="l">8</text>
</g>
<rect x="572.3" y="63.3" width="13.4" height="13.4" fill="#ff0000" stroke="#aa0000" stroke-width="0.6"/>
<rect x="572.3" y="111.3" width="13.4" height="13.4" fill="#000000" stroke="#000000" stroke-width="0.6"/>
<rect x="572.3" y="159.3" width="13.4" height="13.4" fill="#0000ff" stroke="#0000aa" stroke-width="0.6"/>
<rect x="572.3" y="207.3" width="13.4" height="13.4" fill="#00ff00" stroke="#00aa00" stroke-width="0.6"/>
<rect x="572.3" y="255.3" width="13.4" height="13.4" fill="#800080" stroke="#550055" stroke-width="0.6"/>
</svg>
</body></html>
